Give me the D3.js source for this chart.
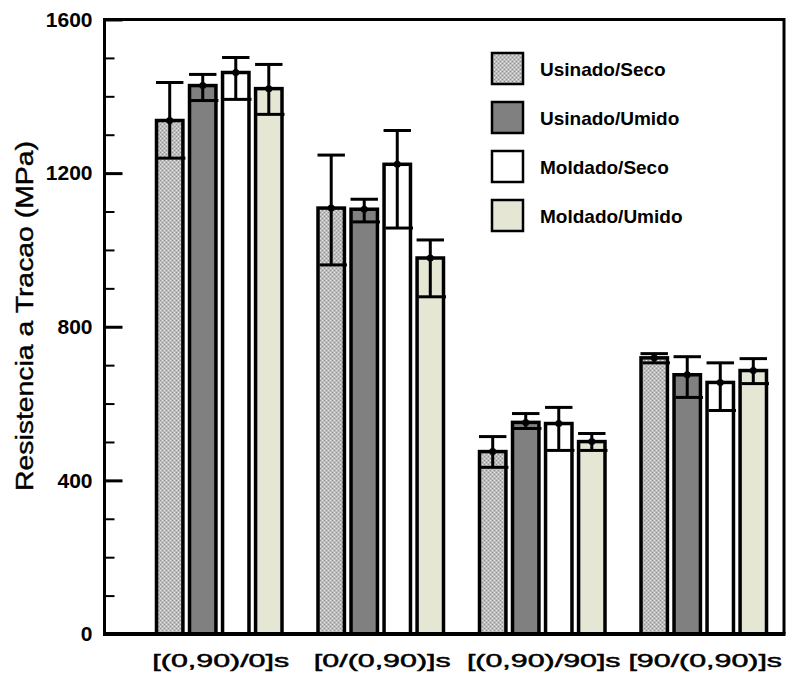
<!DOCTYPE html>
<html>
<head>
<meta charset="utf-8">
<script src="https://cdn.jsdelivr.net/npm/d3@7"></script>
<style>
  body { margin: 0; background: #fff; }
  svg { display: block; }
  text { font-family: "Liberation Sans", Arial, sans-serif; fill: #000; }
</style>
</head>
<body>
<script>
// categories and series
var categories = ["[(0,90)/0]s", "[0/(0,90)]s", "[(0,90)/90]s", "[90/(0,90)]s"]
var series = ["Usinado/Seco", "Usinado/Umido", "Moldado/Seco", "Moldado/Umido"]

// mean values (MPa), one array per series, in category order
var usinadoSeco  = [1337, 1109, 475, 719]
var usinadoUmido = [1428, 1106, 551, 675]
var moldadoSeco  = [1462, 1223, 548, 655]
var moldadoUmido = [1420, 979, 501, 686]

// error bar ends (upper / lower)
var upperUS = [1436, 1247, 514, 730]
var lowerUS = [1239, 961, 434, 706]
var upperUU = [1457, 1132, 574, 722]
var lowerUU = [1389, 1073, 535, 616]
var upperMS = [1501, 1311, 590, 706]
var lowerMS = [1392, 1057, 478, 582]
var upperMU = [1483, 1026, 522, 717]
var lowerMU = [1353, 878, 478, 652]

var yTicks = [0, 400, 800, 1200, 1600]

var means = [usinadoSeco, usinadoUmido, moldadoSeco, moldadoUmido]
var uppers = [upperUS, upperUU, upperMS, upperMU]
var lowers = [lowerUS, lowerUU, lowerMS, lowerMU]

var fills = ["url(#hatch)", "#808080", "#ffffff", "#e5e6d4"]

// flatten into records for d3
var data = []
categories.forEach(function(c, ci) {
  series.forEach(function(s, si) {
    data.push({cat: c, ser: s, si: si, value: means[si][ci], hi: uppers[si][ci], lo: lowers[si][ci]})
  })
})

var W = 790, H = 676
var plotL = 104.5, plotR = 784, plotT = 19.5, plotB = 634

var svg = d3.select("body").append("svg")
    .attr("width", W)
    .attr("height", H)

// texture for Usinado/Seco
var defs = svg.append("defs")
var pat = defs.append("pattern")
    .attr("id", "hatch")
    .attr("width", 4).attr("height", 4)
    .attr("patternUnits", "userSpaceOnUse")
pat.append("rect").attr("width", 4).attr("height", 4).attr("fill", "#bdbdbd")
pat.append("rect").attr("x", 0).attr("y", 0).attr("width", 1).attr("height", 1).attr("fill", "#939393")
pat.append("rect").attr("x", 2).attr("y", 2).attr("width", 1).attr("height", 1).attr("fill", "#939393")
pat.append("rect").attr("x", 2).attr("y", 0).attr("width", 1).attr("height", 1).attr("fill", "#e2e2e2")
pat.append("rect").attr("x", 0).attr("y", 2).attr("width", 1).attr("height", 1).attr("fill", "#e2e2e2")

// scales
var y = d3.scaleLinear().domain([0, 1600]).range([plotB, plotT])
var x0 = d3.scaleBand().domain(categories).range([137, 783]).padding(0)
var x1 = d3.scaleBand().domain(series).range([19.5, 145]).paddingInner(0.2).paddingOuter(0)

// bars
svg.append("g").selectAll("rect")
    .data(data)
    .enter().append("rect")
    .attr("x", function(d) { return x0(d.cat) + x1(d.ser) })
    .attr("y", function(d) { return y(d.value) })
    .attr("width", x1.bandwidth())
    .attr("height", function(d) { return plotB - y(d.value) })
    .attr("fill", function(d) { return fills[d.si] })
    .attr("stroke", "#000")
    .attr("stroke-width", 3.5)

// error bars
var capW = x1.bandwidth() + 1
var eb = svg.append("g").selectAll("g")
    .data(data)
    .enter().append("g")
    .attr("transform", function(d) { return "translate(" + (x0(d.cat) + x1(d.ser) + x1.bandwidth() / 2) + ",0)" })

eb.append("line")
    .attr("x1", 0).attr("x2", 0)
    .attr("y1", function(d) { return y(d.hi) })
    .attr("y2", function(d) { return y(d.lo) })
    .attr("stroke", "#000").attr("stroke-width", 3)
eb.append("line")
    .attr("x1", -capW / 2).attr("x2", capW / 2)
    .attr("y1", function(d) { return y(d.hi) })
    .attr("y2", function(d) { return y(d.hi) })
    .attr("stroke", "#000").attr("stroke-width", 3)
eb.append("line")
    .attr("x1", -capW / 2 + 2).attr("x2", capW / 2 + 2)
    .attr("y1", function(d) { return y(d.lo) })
    .attr("y2", function(d) { return y(d.lo) })
    .attr("stroke", "#000").attr("stroke-width", 3)
eb.append("circle")
    .attr("cy", function(d) { return y(d.value) })
    .attr("r", 3.5)
    .attr("fill", "#000")

// frame
svg.append("path")
    .attr("d", "M" + plotL + "," + plotB + "V" + plotT + "H" + plotR + "V" + plotB)
    .attr("fill", "none")
    .attr("stroke", "#000")
    .attr("stroke-width", 3)
svg.append("line")
    .attr("x1", plotL - 1.5).attr("x2", plotR + 1.5)
    .attr("y1", plotB).attr("y2", plotB)
    .attr("stroke", "#000").attr("stroke-width", 4)

// y axis, ticks pointing inward
var yAxis = svg.append("g")
    .attr("transform", "translate(" + plotL + ",0)")
    .call(d3.axisLeft(y).tickValues(yTicks).tickSize(-18).tickPadding(12).tickFormat(d3.format("d")))
yAxis.select(".domain").remove()
yAxis.selectAll(".tick line").attr("stroke-width", 3)
yAxis.selectAll(".tick text")
    .style("font-size", "21px")
    .style("font-weight", "bold")
    .style("font-family", "'Liberation Sans', Arial, sans-serif")
    .attr("fill", "#000")

var minor = d3.range(100, 1600, 100).filter(function(v) { return v % 400 !== 0 })
var yMinor = svg.append("g")
    .attr("transform", "translate(" + plotL + ",0)")
    .call(d3.axisLeft(y).tickValues(minor).tickSize(-10).tickFormat(""))
yMinor.select(".domain").remove()
yMinor.selectAll(".tick line").attr("stroke-width", 2)

// x labels (stretched wide like the original)
svg.append("g").selectAll("text")
    .data(categories)
    .enter().append("text")
    .attr("transform", function(d) { return "translate(" + (x0(d) + x0.bandwidth() / 2 + 3) + ",667) scale(1.6,1)" })
    .attr("text-anchor", "middle")
    .style("font-size", "19px")
    .style("stroke", "#000")
    .style("stroke-width", "0.5px")
    .text(function(d) { return d })

// y title
svg.append("text")
    .attr("transform", "translate(33,316) rotate(-90)")
    .attr("text-anchor", "middle")
    .attr("textLength", 350)
    .attr("lengthAdjust", "spacingAndGlyphs")
    .style("font-size", "23px")
    .style("stroke", "#000")
    .style("stroke-width", "0.4px")
    .text("Resistencia a Tracao (MPa)")

// legend
var legend = svg.append("g").selectAll("g")
    .data(series)
    .enter().append("g")
    .attr("transform", function(d, i) { return "translate(492," + (53 + i * 49) + ")" })

legend.append("rect")
    .attr("width", 31).attr("height", 31)
    .attr("fill", function(d, i) { return fills[i] })
    .attr("stroke", "#000")
    .attr("stroke-width", 2.5)

legend.append("text")
    .attr("x", 48)
    .attr("y", 16)
    .attr("dy", "0.35em")
    .style("font-size", "19px")
    .style("font-weight", "bold")
    .text(function(d) { return d })
</script>
</body>
</html>
